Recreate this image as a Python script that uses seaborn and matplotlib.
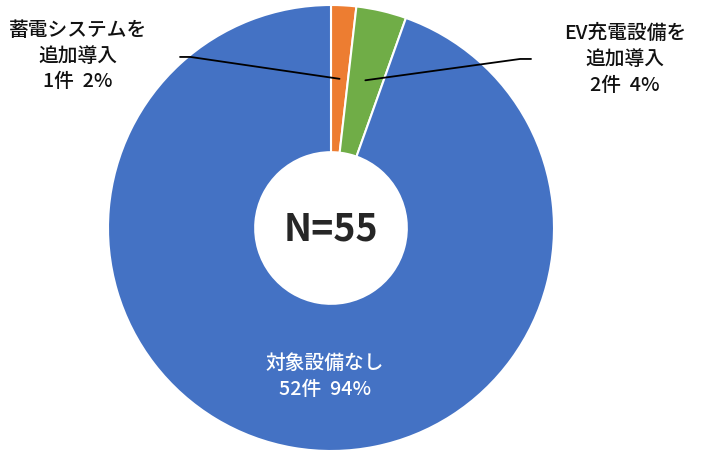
import numpy as np
import matplotlib
matplotlib.use('Agg')
import matplotlib.pyplot as plt
import seaborn as sns

# データ
labels = ['蓄電システムを\n追加導入', 'EV充電設備を\n追加導入', '対象設備なし']
counts = [1, 2, 52]
percents = [2, 4, 94]
colors = ['#ED7D31', '#70AD47', '#4472C4']
total_label = 'N=55'

sns.set_style('white')
plt.rcParams['font.family'] = ['Noto Sans CJK JP', 'DejaVu Sans']

fig = plt.figure(figsize=(7.12, 4.52), dpi=100)
ax = fig.add_axes([108 / 712, 0, 446 / 712, 446 / 452])

wedges, _ = ax.pie(counts, colors=colors, startangle=90, counterclock=False,
                   radius=1, wedgeprops=dict(width=0.66, edgecolor='white', linewidth=1.5))
ax.set_xlim(-1, 1)
ax.set_ylim(-1, 1)
ax.set_aspect('equal')
ax.axis('off')

ax.text(0, 0, total_label, ha='center', va='center', fontsize=27, fontweight='bold')

def mid_point(w, r):
    ang = np.deg2rad((w.theta1 + w.theta2) / 2)
    return r * np.cos(ang), r * np.sin(ang)

texts = [f'{labels[i]}\n{counts[i]}件  {percents[i]}%' for i in range(3)]
fs = 14.2
fw = 'medium'

# 蓄電システム
x0, y0 = mid_point(wedges[0], 0.67)
ax.plot([-0.677, -0.63, x0], [0.767, 0.767, y0], color='black', lw=1.3, clip_on=False)
ax.text(-1.135, 0.775, texts[0], ha='center', va='center', fontsize=fs, fontweight=fw,
        linespacing=1.45, color='#111111')

# EV充電設備
x1, y1 = mid_point(wedges[1], 0.68)
ax.plot([x1, 0.848, 0.897], [y1, 0.758, 0.758], color='black', lw=1.3, clip_on=False)
ax.text(1.318, 0.76, texts[1], ha='center', va='center', fontsize=fs, fontweight=fw,
        linespacing=1.45, color='#111111')

# 対象設備なし
ax.text(-0.027, -0.66, texts[2], ha='center', va='center', fontsize=fs, fontweight=fw,
        linespacing=1.45, color='white')

fig.savefig('out.png', dpi=100)
